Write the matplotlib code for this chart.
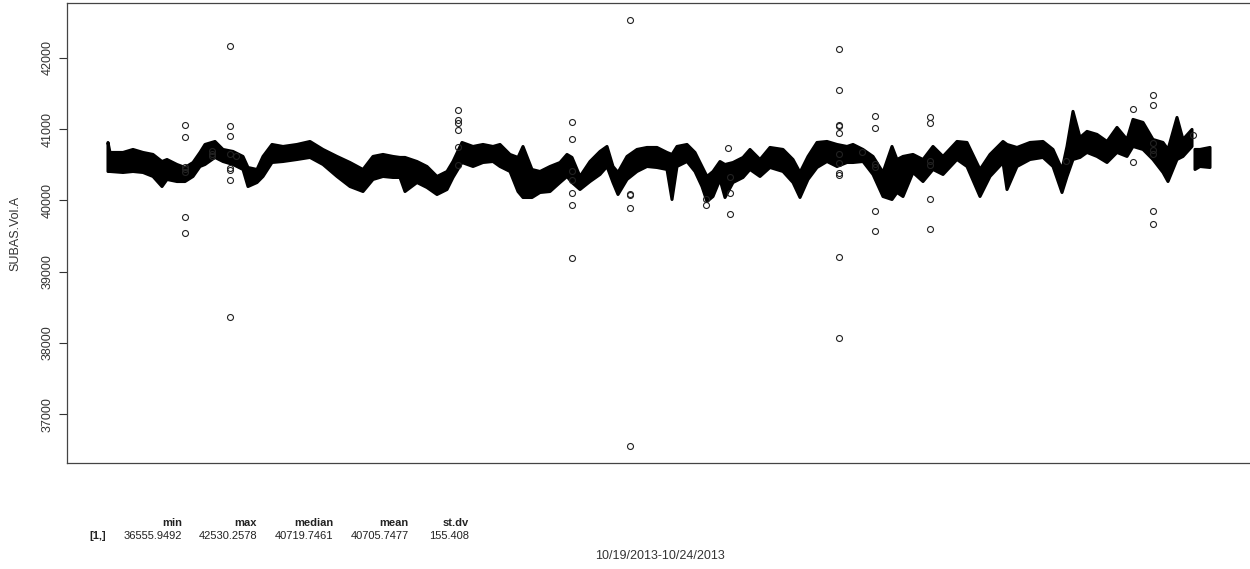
import numpy as np
import matplotlib
matplotlib.use("Agg")
import matplotlib.pyplot as plt

plt.rcParams['font.family'] = ['Liberation Sans', 'DejaVu Sans']

# ------------------------------------------------------------------
# Data (sample position along the 5-day window)
# The dense trace is kept as its upper / lower envelope; NaN marks a gap.
# ------------------------------------------------------------------
sample = [0, 2, 15, 25, 35, 45, 54, 59, 69, 77, 85, 92, 97, 107, 115, 125, 135, 140,
          149, 155, 164, 175, 189, 202, 215, 229, 242, 255, 265, 275, 285, 292, 297,
          309, 319, 329, 339, 345, 354, 365, 375, 385, 392, 402, 410, 415, 424, 432,
          442, 452, 459, 464, 472, 482, 492, 499, 505, 510, 519, 529, 539, 549, 559,
          564, 569, 579, 587, 594, 599, 605, 612, 617, 625, 635, 642, 652, 662, 675,
          685, 692, 700, 709, 719, 729, 739, 745, 755, 765, 775, 784, 789, 795, 805,
          815, 825, 835, 849, 859, 872, 882, 895, 899, 909, 922, 935, 945, 954, 959,
          965, 972, 979, 989, 999, 1009, 1019, 1025, 1035, 1045, 1055, 1060, 1069,
          1075, 1084, 1085.5, 1087, 1092, 1102]

vol_hi = [40813, 40673, 40673, 40715, 40673, 40645, 40546, 40574, 40504, 40462, 40532,
          40673, 40785, 40827, 40715, 40687, 40617, 40462, 40434, 40617, 40785, 40757,
          40785, 40827, 40715, 40617, 40532, 40434, 40617, 40645, 40617, 40603, 40603,
          40546, 40476, 40336, 40406, 40546, 40813, 40757, 40785, 40757, 40785, 40645,
          40603, 40757, 40434, 40406, 40476, 40532, 40645, 40603, 40336, 40546, 40687,
          40757, 40476, 40392, 40617, 40715, 40743, 40743, 40673, 40645, 40757, 40785,
          40673, 40476, 40336, 40406, 40546, 40504, 40532, 40603, 40715, 40574, 40743,
          40715, 40574, 40392, 40617, 40813, 40827, 40785, 40757, 40785, 40715, 40617,
          40392, 40757, 40574, 40617, 40645, 40574, 40757, 40617, 40827, 40813, 40434,
          40645, 40827, 40785, 40743, 40813, 40827, 40715, 40434, 40757, 41249, 40883,
          40968, 40926, 40827, 41024, 40855, 41136, 41094, 40855, 40813, 40715, 41164,
          40855, 40996, np.nan, 40715, 40715, 40743]

vol_lo = [40406, 40406, 40392, 40406, 40392, 40336, 40195, 40294, 40265, 40265, 40336,
          40476, 40504, 40603, 40546, 40504, 40434, 40195, 40251, 40336, 40532, 40546,
          40574, 40603, 40504, 40336, 40195, 40125, 40294, 40336, 40322, 40322, 40125,
          40251, 40181, 40083, 40153, 40322, 40532, 40476, 40532, 40546, 40476, 40406,
          40125, 40041, 40041, 40111, 40125, 40251, 40336, 40251, 40153, 40265, 40364,
          40476, 40251, 40083, 40294, 40406, 40476, 40462, 40434, 40013, 40476, 40546,
          40406, 40195, 39985, 40055, 40294, 40041, 40251, 40322, 40434, 40336, 40462,
          40406, 40251, 40041, 40294, 40462, 40546, 40476, 40532, 40532, 40546, 40364,
          40055, 40013, 40111, 40055, 40392, 40265, 40434, 40364, 40574, 40476, 40055,
          40336, 40532, 40153, 40476, 40574, 40603, 40476, 40111, 40336, 40574, 40603,
          40673, 40617, 40532, 40673, 40617, 40757, 40715, 40574, 40392, 40265, 40574,
          40617, 40757, np.nan, 40434, 40476, 40462]

# isolated readings away from the main trace
out_x = [77, 77, 77, 77, 77, 77, 77,
         122, 122, 122, 122, 122, 122, 122, 122,
         104, 104, 104, 128,
         350, 350, 350, 350, 350, 350,
         464, 464, 464, 464, 464, 464, 464,
         522, 522, 522, 522, 522,
         598, 598, 620, 622, 622, 622,
         731, 731, 731, 731, 731, 731, 731, 731, 731, 731, 731,
         767, 767, 767, 767, 767, 767, 754,
         822, 822, 822, 822, 822, 822,
         958, 1025, 1025,
         1045, 1045, 1045, 1045, 1045, 1045, 1045, 1085]
out_y = [41056, 40888, 40462, 40434, 40396, 39774, 39545,
         42162, 41048, 40902, 40654, 40458, 40420, 40289, 38360,
         40700, 40650, 40620, 40621,
         41272, 41132, 41080, 40982, 40747, 40500,
         41098, 40855, 40410, 40290, 40107, 39942, 39198,
         42530.2578, 40097, 40083, 39890, 36555.9492,
         40013, 39933, 40739, 40326, 40101, 39816,
         42129, 41553, 41056, 41038, 40949, 40645, 40528, 40388, 40350, 39208, 38065,
         41183, 41010, 40504, 40470, 39858, 39573, 40677,
         41169, 41080, 40551, 40494, 40017, 39596,
         40551, 41281, 40532,
         41483, 41333, 40809, 40705, 40654, 39858, 39676, 40912]

stat_names = ['min', 'max', 'median', 'mean', 'st.dv']
stat_vals = ['36555.9492', '42530.2578', '40719.7461', '40705.7477', '155.408']

W, H = 1250, 569
fig = plt.figure(figsize=(W / 100, H / 100), dpi=100)
ax = fig.add_axes([66.5 / W, (H - 463) / H, 1187 / W, 460 / H])

ax.fill_between(sample, vol_lo, vol_hi, facecolor='black', edgecolor='black',
                linewidth=2.2, joinstyle='round')
ax.plot(out_x, out_y, linestyle='none', marker='o', markersize=4.3,
        markerfacecolor='none', markeredgecolor='#222222', markeredgewidth=0.8)

ymin, ymax = 36555.9492, 42530.2578
pad = 0.04 * (ymax - ymin)
ax.set_ylim(ymin - pad, ymax + pad)
ax.set_xlim(-41.5, 1145.5)

ax.set_xticks([])
ax.set_yticks([37000, 38000, 39000, 40000, 41000, 42000])
for lab in ax.get_yticklabels():
    lab.set_rotation(90)
    lab.set_va('center')
ax.tick_params(axis='y', direction='out', length=6, width=0.8, color='#333333',
               labelsize=9, labelcolor='#333333', pad=3)
for s in ax.spines.values():
    s.set_color('#444444')
    s.set_linewidth(0.9)

fig.text(15 / W, 1 - 233 / H, 'SUBAS.Vol.A', rotation=90, ha='center', va='center',
         fontsize=9, color='#333333')
fig.text(660 / W, 1 - 556 / H, '10/19/2013-10/24/2013', ha='center', va='center',
         fontsize=9, color='#333333')

# summary table printed under the plot
col_right = [182, 257, 333, 409, 469]
fig.text(106 / W, 1 - 536 / H, '[1,]', ha='right', va='center', fontsize=8,
         fontweight='bold', color='#222222')
for xr, name, val in zip(col_right, stat_names, stat_vals):
    fig.text(xr / W, 1 - 523 / H, name, ha='right', va='center', fontsize=8,
             fontweight='bold', color='#222222')
    fig.text(xr / W, 1 - 536 / H, val, ha='right', va='center', fontsize=8,
             color='#222222')

fig.savefig('out.png', dpi=100)
